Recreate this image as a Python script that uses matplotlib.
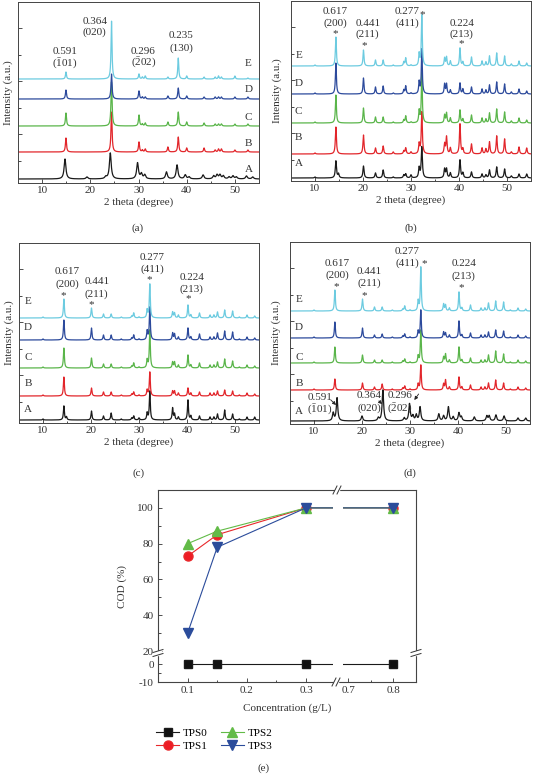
import numpy as np
import matplotlib
matplotlib.use('Agg')
import matplotlib.pyplot as plt
from matplotlib.lines import Line2D
from matplotlib.patches import Rectangle

plt.rcParams['font.family'] = ['Liberation Serif', 'DejaVu Serif']
plt.rcParams['mathtext.fontset'] = 'custom'
plt.rcParams['mathtext.rm'] = 'Liberation Serif'
plt.rcParams['axes.unicode_minus'] = False

W, H = 534, 774

samples = ['A', 'B', 'C', 'D', 'E']
xrd_colors = ['#1a1a1a', '#e2262b', '#5ab54a', '#2c4a9c', '#6ccbe0']

# ---- panel (a): peak positions (2theta) and peak heights (a.u.)
a_peaks_A = [14.75, 19.3, 23.2, 24.15, 29.8, 30.6, 31.3, 35.8, 38.0, 39.7, 40.5,
             43.4, 45.6, 46.3, 46.9, 47.6, 48.8, 49.6, 50.3, 52.4, 53.7]
a_A = [20, 2, 2, 26, 16, 5, 4, 7, 14, 4, 2, 4, 3, 4, 4, 3, 2, 3, 2, 3, 2]
a_peaks = [14.95, 24.4, 30.1, 30.8, 31.4, 36.1, 38.25, 40.0, 43.6, 45.9, 46.6,
           47.2, 50.0, 52.7]
a_B = [14, 40, 10, 2, 3, 5, 15, 4, 4, 2, 3, 3, 2, 2]
a_C = [13, 44, 11, 2, 3, 4, 14, 4, 3, 2, 2, 2, 2, 2]
a_D = [9, 25, 8, 2, 2, 3, 11, 3, 2, 2, 2, 2, 2, 2]
a_E = [7, 58, 5, 2, 3, 2, 21, 3, 2, 2, 3, 2, 3, 1]

# ---- panels (b), (c), (d): common peak positions
bcd_peaks = [10.0, 14.35, 14.9, 20.1, 22.6, 24.2, 26.3, 28.5, 28.9, 30.0, 31.7,
             32.25, 37.0, 37.4, 38.2, 40.2, 40.8, 42.6, 44.8, 45.6, 46.35, 47.85,
             49.5, 50.9, 52.5, 54.1]
b_A = [1, 17, 4, 12, 5, 8, 1, 3, 4, 3, 10, 31, 9, 9, 5, 18, 5, 6, 4, 3, 8, 11, 9, 2, 4, 4]
b_B = [1, 27, 0, 19, 6, 8, 2, 3, 6, 2, 10, 42, 10, 17, 6, 30, 5, 10, 6, 5, 12, 18, 15, 2, 7, 6]
b_C = [1, 28, 0, 15, 6, 6, 1, 3, 7, 1, 12, 50, 8, 10, 5, 13, 4, 8, 5, 4, 10, 14, 11, 2, 5, 3]
b_D = [1, 31, 0, 16, 7, 8, 1, 4, 8, 1, 12, 45, 10, 10, 4, 11, 5, 7, 5, 4, 9, 12, 10, 2, 5, 3]
b_E = [1, 29, 0, 16, 6, 6, 1, 4, 8, 1, 12, 51, 8, 9, 5, 18, 4, 9, 5, 4, 10, 13, 10, 2, 5, 3]

c_A = [1, 14, 3, 9, 4, 7, 1, 2, 4, 2, 7, 29, 12, 6, 3, 20, 4, 4, 3, 3, 6, 10, 6, 1, 3, 3]
c_B = [1, 19, 0, 8, 4, 4, 1, 2, 4, 1, 6, 24, 5, 5, 3, 8, 3, 4, 3, 3, 5, 6, 5, 1, 3, 2]
c_C = [1, 20, 0, 10, 4, 4, 1, 2, 5, 1, 8, 38, 6, 6, 3, 13, 3, 5, 3, 3, 6, 9, 7, 1, 3, 2]
c_D = [1, 20, 0, 12, 5, 5, 1, 2, 5, 1, 9, 33, 7, 6, 3, 12, 3, 6, 3, 3, 7, 9, 8, 1, 3, 2]
c_E = [1, 19, 0, 10, 4, 4, 1, 2, 5, 1, 8, 34, 6, 5, 3, 13, 3, 5, 3, 3, 6, 8, 7, 1, 3, 2]

d_peaks_A = [14.0, 14.8, 20.0, 23.4, 24.35, 28.8, 29.9, 30.6, 31.3, 32.1, 36.0, 37.0,
             38.0, 39.0, 40.2, 40.7, 43.4, 46.0, 46.5, 47.9, 49.6, 52.5, 54.1]
d_A = [8, 23, 5, 3, 31, 3, 17, 5, 6, 14, 7, 5, 14, 4, 8, 4, 4, 5, 5, 6, 5, 3, 3]
d_B = [1, 11, 0, 7, 3, 6, 1, 2, 4, 1, 6, 25, 6, 10, 3, 13, 3, 5, 3, 3, 7, 10, 7, 1, 3, 2]
d_C = [1, 16, 0, 8, 3, 3, 1, 2, 4, 1, 7, 33, 6, 9, 3, 16, 3, 5, 3, 3, 8, 12, 9, 1, 3, 2]
d_D = [1, 16, 0, 10, 3, 4, 1, 2, 4, 1, 7, 28, 6, 5, 3, 17, 3, 5, 3, 3, 6, 8, 7, 1, 3, 2]
d_E = [1, 21, 0, 12, 4, 4, 1, 2, 5, 1, 10, 44, 7, 6, 3, 19, 3, 6, 3, 3, 8, 10, 9, 1, 3, 2]

# ---- panel (e): COD removal
conc = [0.1, 0.15, 0.3, 0.8]
tps0 = [0, 0, 0, 0]
tps1 = [73, 85, 100, 100]
tps2 = [80, 87, 100, 100]
tps3 = [30, 78, 100, 100]

FS = 8
INK = '#333333'


def px_rect(l, t, r, b):
    return [l / W, 1 - b / H, (r - l) / W, (b - t) / H]


def fpt(x, y):
    return x / W, 1 - y / H


def pattern(tt, peaks, heights, hw):
    y = np.zeros_like(tt)
    for p, h in zip(peaks, heights):
        y += h * hw ** 2 / ((tt - p) ** 2 + hw ** 2)
    return y


fig = plt.figure(figsize=(W / 100, H / 100), dpi=100)
tt = np.linspace(5, 55, 3000)


def xrd_axes(rect, height, traces, offsets, letter_y, letter_x, ylpad):
    ax = fig.add_axes(rect)
    for (peaks, hts, hw), off, col in zip(traces, offsets, xrd_colors):
        ax.plot(tt, off + pattern(tt, peaks, hts, hw), color=col, lw=0.9)
    for s, ly in zip(samples, letter_y):
        ax.text(letter_x, ly, s, fontsize=FS, ha='center', va='center', color=INK)
    ax.set_xlim(5, 55)
    ax.set_ylim(0, height)
    ax.set_xticks([10, 20, 30, 40, 50])
    ax.set_xticks(np.arange(5, 56, 5), minor=True)
    ax.set_yticks(np.arange(height - 26, 0, -53))
    ax.set_yticks(np.arange(height - 53, 0, -53), minor=True)
    ax.set_yticklabels([])
    ax.tick_params(direction='in', labelsize=FS, length=3, width=0.6, pad=2, colors=INK)
    ax.tick_params(which='minor', direction='in', length=1.8, width=0.5)
    ax.tick_params(axis='y', which='both', right=False)
    for sp in ax.spines.values():
        sp.set_linewidth(0.7)
        sp.set_color('#444444')
    ax.set_xlabel('2 theta (degree)', fontsize=FS, labelpad=2, color=INK)
    ax.set_ylabel('Intensity (a.u.)', fontsize=FS, labelpad=ylpad, color=INK)
    return ax


def label(ax, x, y, s, fs=FS):
    ax.text(x, y, s, fontsize=fs, ha='center', va='center', color=INK)


# (a)
ax_a = xrd_axes(px_rect(18, 2, 259, 183), 181,
                [(a_peaks_A, a_A, 0.22), (a_peaks, a_B, 0.13), (a_peaks, a_C, 0.13),
                 (a_peaks, a_D, 0.13), (a_peaks, a_E, 0.12)],
                [4, 31, 57, 84, 104], [13, 39, 66, 93, 119], 52.8, 0.5)
label(ax_a, 14.7, 131, '0.591')
label(ax_a, 14.7, 119, r'$\mathrm{(\bar{1}01)}$')
label(ax_a, 20.9, 162, '0.364')
label(ax_a, 20.9, 151, '(020)')
label(ax_a, 31.0, 132, '0.296')
label(ax_a, 31.0, 120, r'$\mathrm{(\bar{2}02)}$')
label(ax_a, 38.9, 147, '0.235')
label(ax_a, 38.9, 135, '(130)')

# (b)
ax_b = xrd_axes(px_rect(291, 1, 531, 181), 180,
                [(bcd_peaks, b_A, 0.14), (bcd_peaks, b_B, 0.13), (bcd_peaks, b_C, 0.12),
                 (bcd_peaks, b_D, 0.12), (bcd_peaks, b_E, 0.12)],
                [3, 27, 58, 87, 115], [18, 43, 69, 98, 125], 6.6, 3)

# (c)
ax_c = xrd_axes(px_rect(19, 243, 259, 423), 180,
                [(bcd_peaks, c_A, 0.12), (bcd_peaks, c_B, 0.12), (bcd_peaks, c_C, 0.12),
                 (bcd_peaks, c_D, 0.12), (bcd_peaks, c_E, 0.12)],
                [3, 27, 55, 83, 105], [13, 40, 66, 95, 121], 6.9, 0.5)

# (d)
ax_d = xrd_axes(px_rect(290, 242, 530, 424), 182,
                [(d_peaks_A, d_A, 0.18), (bcd_peaks, d_B, 0.12), (bcd_peaks, d_C, 0.12),
                 (bcd_peaks, d_D, 0.12), (bcd_peaks, d_E, 0.12)],
                [3, 34, 61, 86, 113], [12, 41, 67, 97, 125], 6.9, 3)

peak_texts = ['0.617', '(200)', '*', '0.441', '(211)', '*',
              '0.277', '(411)', '*', '0.224', '(213)', '*']
for ax, xs, ys in [
        (ax_b, [14.2, 14.2, 14.2, 21.0, 21.0, 20.2, 29.2, 29.2, 32.4, 40.6, 40.6, 40.4],
         [169, 158, 147, 158, 147, 135, 169, 158, 166, 158, 147, 137]),
        (ax_c, [15.0, 15.0, 14.2, 21.2, 21.2, 20.0, 32.7, 32.7, 32.1, 41.0, 41.0, 40.2],
         [151, 139, 127, 141, 129, 118, 166, 154, 143, 146, 134, 124]),
        (ax_d, [14.8, 14.8, 14.6, 21.5, 21.5, 20.4, 29.4, 29.4, 33.0, 41.2, 41.2, 40.6],
         [161, 149, 137, 152, 141, 128, 173, 161, 160, 160, 148, 136])]:
    for x, y, s in zip(xs, ys, peak_texts):
        label(ax, x, y, s)

label(ax_d, 11.3, 27, '0.591')
label(ax_d, 11.3, 14, r'$\mathrm{(\bar{1}01)}$')
label(ax_d, 21.5, 28, '0.364')
label(ax_d, 21.5, 16, '(020)')
label(ax_d, 27.9, 28, '0.296')
label(ax_d, 27.9, 15, r'$\mathrm{(\bar{2}02)}$')
for (x0, y0), (x1, y1) in [((13.5, 24), (14.6, 19)), ((23.5, 23), (24.2, 20)),
                           ((31.8, 30), (30.9, 24))]:
    ax_d.annotate('', xy=(x1, y1), xytext=(x0, y0),
                  arrowprops=dict(arrowstyle='-|>', lw=0.6, color='#222222',
                                  mutation_scale=5, shrinkA=0, shrinkB=0))

for s, x, y in [('(a)', 138, 228), ('(b)', 411, 228), ('(c)', 139, 473), ('(d)', 410, 473),
                ('(e)', 264, 768)]:
    fx, fy = fpt(x, y)
    fig.text(fx, fy, s, fontsize=FS, ha='center', va='center', color=INK)

# ---- (e) broken axes through piecewise scales
xp = [-1.0, 0.05, 0.346, 0.689, 0.85, 2.0]
xf = [-1.05 * 590, 0, 174.6, 184.6, 257, 257 + 1.15 * 450]
yp = [-100, -10, 4, 19, 110, 300]
yf = [-162, 0, 25.2, 29.2, 192, 192 + 190 * 1.79]


def fwd_x(v):
    return np.interp(v, xp, xf)


def inv_x(v):
    return np.interp(v, xf, xp)


def fwd_y(v):
    return np.interp(v, yp, yf)


def inv_y(v):
    return np.interp(v, yf, yp)


ax_e = fig.add_axes(px_rect(158, 490, 416, 682))
ax_e.set_xscale('function', functions=(fwd_x, inv_x))
ax_e.set_yscale('function', functions=(fwd_y, inv_y))
ax_e.plot(conc, tps0, '-s', color='#1a1a1a', mfc='#111111', ms=5.5, lw=0.8, label='TPS0')
ax_e.plot(conc, tps1, '-o', color='#e8282b', mfc='#ee1c24', ms=6.5, lw=0.8, label='TPS1')
ax_e.plot(conc, tps2, '-^', color='#62bb47', mfc='#62bb47', ms=7, lw=0.8, label='TPS2')
ax_e.plot(conc, tps3, '-v', color='#2b4c9b', mfc='#2b4c9b', ms=7, lw=0.8, label='TPS3')
ax_e.axvspan(0.346, 0.689, color='white', zorder=2.2, lw=0)
ax_e.set_xlim(0.05, 0.85)
ax_e.set_ylim(-10, 110)
ax_e.set_xticks([0.1, 0.2, 0.3, 0.7, 0.8])
ax_e.set_xticklabels(['0.1', '0.2', '0.3', '0.7', '0.8'])
ax_e.set_xticks([0.15, 0.25, 0.75], minor=True)
ax_e.set_yticks([-10, 0, 20, 40, 60, 80, 100])
ax_e.set_yticklabels(['-10', '0', '20', '40', '60', '80', '100'])
ax_e.set_yticks([-5, 30, 50, 70, 90], minor=True)
ax_e.tick_params(direction='in', labelsize=FS, length=3, width=0.6, pad=3,
                 colors=INK, top=False, right=False)
ax_e.tick_params(which='minor', direction='in', length=1.8, width=0.5)
for sp in ax_e.spines.values():
    sp.set_linewidth(0.8)
    sp.set_color('#444444')
ax_e.set_xlabel('Concentration (g/L)', fontsize=FS, labelpad=6, color=INK)
ax_e.set_ylabel('COD (%)', fontsize=FS, labelpad=7, color=INK)


def break_mark(x, y, vertical):
    # two short slanted strokes with a white gap across a spine (pixel coords)
    if vertical:
        gap = Rectangle(fpt(x - 2, y + 3), 4 / W, 6 / H, transform=fig.transFigure,
                        color='white', zorder=5)
        fig.add_artist(gap)
        for dx in (-2, 2):
            fig.add_artist(Line2D([(x + dx - 2) / W, (x + dx + 2) / W],
                                  [1 - (y + 4) / H, 1 - (y - 4) / H],
                                  transform=fig.transFigure, color=INK, lw=0.7, zorder=6))
    else:
        gap = Rectangle(fpt(x - 3, y + 2), 6 / W, 4 / H, transform=fig.transFigure,
                        color='white', zorder=5)
        fig.add_artist(gap)
        for dy in (-2, 2):
            fig.add_artist(Line2D([(x - 5) / W, (x + 5) / W],
                                  [1 - (y + dy + 1.5) / H, 1 - (y + dy - 1.5) / H],
                                  transform=fig.transFigure, color=INK, lw=0.7, zorder=6))


break_mark(337, 490, True)
break_mark(336, 682, True)
break_mark(158, 653, False)
break_mark(416, 653, False)

handles, labels = ax_e.get_legend_handles_labels()
fx, fy = fpt(152, 724)
fig.legend(handles, labels, ncol=2, loc='upper left', bbox_to_anchor=(fx, fy),
           frameon=False, fontsize=FS, handlelength=2.0, columnspacing=1.2,
           handletextpad=0.4, labelspacing=0.3, borderaxespad=0)

fig.savefig('out.png', dpi=100)
